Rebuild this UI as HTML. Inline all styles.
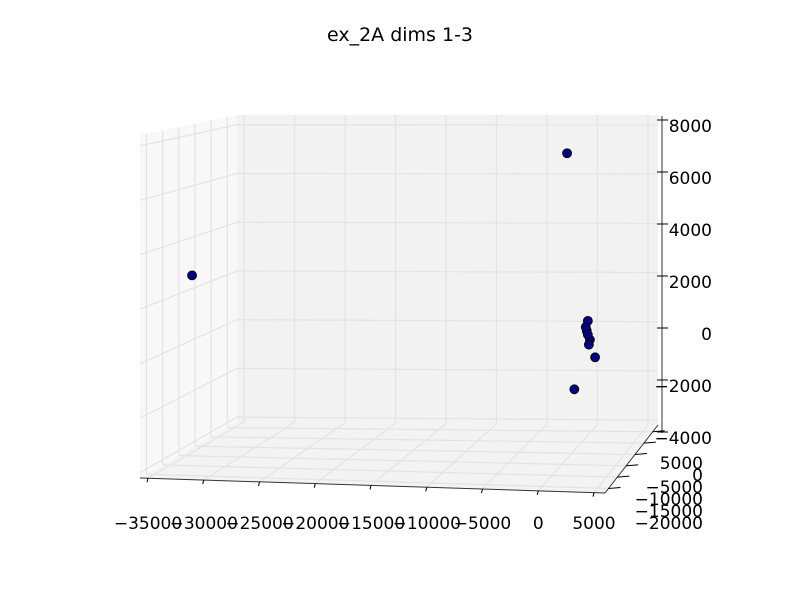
<!DOCTYPE html>
<html><head><meta charset="utf-8"><style>
body{margin:0;background:#fff}
svg text{font-family:"DejaVu Sans","Liberation Sans",sans-serif;font-size:17px;fill:#000}
</style></head><body>
<svg id="chart" width="800" height="600" viewBox="0 0 800 600">
<rect width="800" height="600" fill="#fff"/>
<text x="400" y="41" text-anchor="middle" style="font-size:19px">ex_2A dims 1-3</text>
<g id="panes"></g>
<g id="grid"></g>
<g id="axes"></g>
<g id="points"></g>
</svg>
<script>
const xVals=[-1400,-33000,600,500,800,400,700,600,1300,-700];
const yVals=[0,-15000,0,0,0,0,0,0,0,0];
const zVals=[7330,2980,650,250,-100,400,-300,100,-800,-2090];
const xTicks=[-35000,-30000,-25000,-20000,-15000,-10000,-5000,0,5000];
const yTicks=[-20000,-15000,-10000,-5000,0,5000];
const zTicks=[-4000,-2000,0,2000,4000,6000,8000];
const xmin=-35700,xmax=6000,ymin=-22000,ymax=8000,zmin=-4200,zmax=8400;
const FL=[140,478],FR=[605,493],BL=[237,422],BR=[658,425];
const HFL=343,HFR=330,HBL=307,HBR=310;
const NS='http://www.w3.org/2000/svg';
function P(u,v,w){
 const x=(1-u)*(1-v)*FL[0]+u*(1-v)*FR[0]+(1-u)*v*BL[0]+u*v*BR[0];
 const y=(1-u)*(1-v)*FL[1]+u*(1-v)*FR[1]+(1-u)*v*BL[1]+u*v*BR[1];
 const h=(1-u)*(1-v)*HFL+u*(1-v)*HFR+(1-u)*v*HBL+u*v*HBR;
 return [x,y-w*h];
}
const U=x=>(x-xmin)/(xmax-xmin),V=y=>(y-ymin)/(ymax-ymin),W=z=>(z-zmin)/(zmax-zmin);
function el(t,a,p){const e=document.createElementNS(NS,t);for(const k in a)e.setAttribute(k,a[k]);p.appendChild(e);return e;}
const panes=document.getElementById('panes'),grid=document.getElementById('grid'),axes=document.getElementById('axes'),pts=document.getElementById('points');
function poly(c){return c.map(p=>p.join(',')).join(' ');}
let e;
e=el('polygon',{points:poly([P(0,1,0),P(1,1,0),P(1,1,1),P(0,1,1)]),fill:'#f2f2f2'},panes);

e=el('polygon',{points:poly([P(0,0,0),P(0,1,0),P(0,1,1),P(0,0,1)]),fill:'#f8f8f8'},panes);

e=el('polygon',{points:poly([P(0,0,0),P(1,0,0),P(1,1,0),P(0,1,0)]),fill:'#f3f3f3'},panes);

function line(a,b,stroke,w,p,name){const l=el('line',{x1:a[0],y1:a[1],x2:b[0],y2:b[1],stroke:stroke,'stroke-width':w},p);

return l;}
const gc='#e3e3e3';
xTicks.forEach(t=>{const u=U(t);line(P(u,0,0),P(u,1,0),gc,1.2,grid,'x-gridline');line(P(u,1,0),P(u,1,1),gc,1.2,grid,'x-gridline');});
yTicks.forEach(t=>{const v=V(t);line(P(0,v,0),P(1,v,0),gc,1.2,grid,'y-gridline');line(P(0,v,0),P(0,v,1),gc,1.2,grid,'y-gridline');});
zTicks.forEach(t=>{const w=(t-zmin)/(zmax-zmin);line(P(0,0,w),P(0,1,w),gc,1.2,grid,'z-gridline');line(P(0,1,w),P(1,1,w),gc,1.2,grid,'z-gridline');});
line(FL,FR,'#333',1,axes,'x-axis-line');
line(FR,BR,'#333',1,axes,'y-axis-line');
line([662,116],[662,433],'#333',1,axes,'z-axis-line');
xTicks.forEach(t=>{const px=148+(t+35000)*0.01115;const py=FL[1]+(px-FL[0])*(FR[1]-FL[1])/(FR[0]-FL[0]);
 line([px,py],[px-1,py+4],'#000',1,axes,'x-tick');
 const s=el('text',{x:px,y:529,'text-anchor':'middle'},axes);s.textContent=String(t).replace('-','\u2212');
 });
yTicks.forEach(t=>{const v=V(t);const a=[FR[0]+v*(BR[0]-FR[0]),FR[1]+v*(BR[1]-FR[1])];
 line(a,[a[0]+12,a[1]-1],'#000',1,axes,'y-tick');
 const ly=529-(t+20000)*0.0024;const s=el('text',{x:703,y:ly,'text-anchor':'end'},axes);s.textContent=String(t).replace('-','\u2212');
 });
zTicks.forEach(t=>{const py=120+(8000-t)*0.026;
 line([657,py],[668,py],'#000',1,axes,'z-tick');
 const s=el('text',{x:712,y:py+12,'text-anchor':'end'},axes);s.textContent=String(t).replace('-','\u2212');
 });
xVals.forEach((x,i)=>{const p=P(U(x),V(yVals[i]),W(zVals[i]));
 const c=el('circle',{cx:p[0],cy:p[1],r:4.5,fill:'#00007f',stroke:'#000','stroke-width':0.8},pts);
 });
</script>
</body></html>
